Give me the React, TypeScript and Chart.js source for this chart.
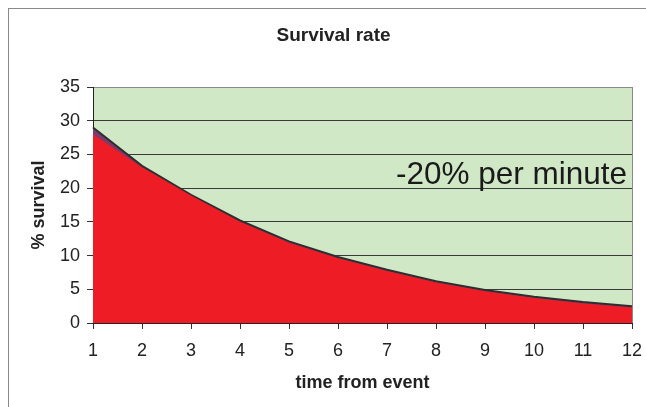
import React, { useEffect, useRef } from "react";
import { Chart, registerables } from "chart.js";

Chart.register(...registerables);

const categories = ["1", "2", "3", "4", "5", "6", "7", "8", "9", "10", "11", "12"];
const survivalArea = [28.0, 23.1, 18.9, 15.0, 11.9, 9.6, 7.7, 6.0, 4.7, 3.7, 2.9, 2.3];
const survivalLine = [29.0, 23.3, 19.0, 15.2, 12.1, 9.8, 7.9, 6.2, 4.9, 3.9, 3.1, 2.5];
const yTicks = [0, 5, 10, 15, 20, 25, 30, 35];
const titleText = "Survival rate";
const xTitle = "time from event";
const yTitle = "% survival";
const noteText = "-20% per minute";

const FONT = "'Liberation Sans', Arial, sans-serif";

const decorPlugin = {
  id: "decor",
  beforeDraw(chart: any) {
    const { ctx, chartArea } = chart;
    ctx.save();
    ctx.fillStyle = "#d0e8c6";
    ctx.fillRect(chartArea.left, chartArea.top, chartArea.right - chartArea.left, chartArea.bottom - chartArea.top);
    ctx.restore();
  },
  afterDraw(chart: any) {
    const { ctx, chartArea } = chart;
    ctx.save();
    ctx.strokeStyle = "#8a8a8a";
    ctx.lineWidth = 1;
    ctx.beginPath();
    ctx.moveTo(Math.round(chartArea.right) + 0.5, chartArea.top);
    ctx.lineTo(Math.round(chartArea.right) + 0.5, chartArea.bottom);
    ctx.stroke();
    // chart title
    ctx.fillStyle = "#222";
    ctx.font = `bold 19px ${FONT}`;
    ctx.textAlign = "center";
    ctx.textBaseline = "alphabetic";
    ctx.fillText(titleText, 324.5, 32);
    // annotation
    ctx.fillStyle = "#1a1a1a";
    ctx.font = `31.5px ${FONT}`;
    ctx.textAlign = "right";
    ctx.fillText(noteText, chartArea.right - 5, chartArea.top + 97);
    ctx.restore();
  },
};

export default function App() {
  const ref = useRef<HTMLCanvasElement | null>(null);
  useEffect(() => {
    if (!ref.current) return;
    const chart = new Chart(ref.current, {
      type: "line",
      data: {
        labels: categories,
        datasets: [
          {
            label: "area",
            data: survivalArea,
            backgroundColor: "#ee1c25",
            borderColor: "rgba(0,0,0,0)",
            borderWidth: 0,
            fill: "origin",
            pointRadius: 0,
            tension: 0,
          },
          {
            label: "line",
            data: survivalLine,
            backgroundColor: "#7b3a6b",
            borderColor: "#2e2e2e",
            borderWidth: 2,
            fill: "origin",
            pointRadius: 0,
            tension: 0,
          },
        ],
      },
      options: {
        animation: false,
        responsive: true,
        maintainAspectRatio: false,
        layout: { padding: { left: 0, right: 14, top: 78, bottom: 0 } },
        plugins: {
          legend: { display: false },
          title: { display: false },
          tooltip: { enabled: false },
        },
        scales: {
          x: {
            type: "category",
            offset: false,
            afterFit(scale: any) {
              scale.height = 84;
              scale.paddingLeft = 0;
              scale.paddingRight = 0;
            },
            grid: {
              drawOnChartArea: false,
              drawTicks: true,
              tickLength: 6,
              color: "#333",
            },
            border: { display: true, color: "#222", width: 1 },
            ticks: {
              color: "#222",
              font: { family: FONT, size: 18 },
              padding: 11,
              maxRotation: 0,
              autoSkip: false,
            },
            title: {
              display: true,
              text: xTitle,
              color: "#222",
              font: { family: FONT, size: 18, weight: "bold" },
              padding: { top: 0, bottom: 13 },
            },
          },
          y: {
            min: 0,
            max: 35,
            afterFit(scale: any) {
              scale.width = 84;
              scale.paddingTop = 0;
              scale.paddingBottom = 0;
            },
            afterBuildTicks(scale: any) {
              scale.ticks = yTicks.map((v) => ({ value: v }));
            },
            grid: {
              drawTicks: true,
              tickLength: 6,
              color: (c: any) => (c.tick && c.tick.value === 35 ? "#8a8a8a" : c.tick && c.tick.value === 0 ? "rgba(0,0,0,0)" : "#3a3a3a"),
              tickColor: "#333",
              lineWidth: 1,
            },
            border: { display: true, color: "#222", width: 1 },
            ticks: {
              color: "#222",
              font: { family: FONT, size: 18 },
              padding: 7,
            },
            title: {
              display: true,
              text: yTitle,
              color: "#222",
              font: { family: FONT, size: 18, weight: "bold" },
              padding: { top: 19, bottom: 0 },
            },
          },
        },
      },
      plugins: [decorPlugin],
    });
    return () => chart.destroy();
  }, []);

  return (
    <div
      style={{
        position: "fixed",
        left: 8,
        top: 8,
        width: 637,
        height: 398,
        borderLeft: "1px solid #8a8a8a",
        borderTop: "1px solid #8a8a8a",
        background: "#fff",
      }}
    >
      <canvas ref={ref} />
    </div>
  );
}
